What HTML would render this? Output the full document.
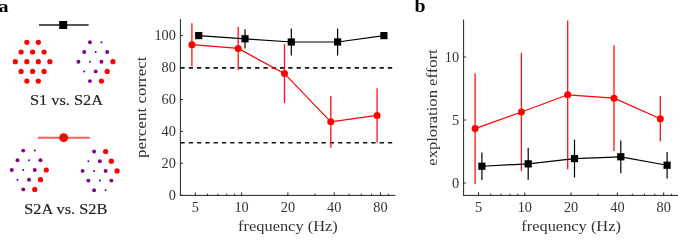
<!DOCTYPE html><html><head><meta charset="utf-8"><style>html,body{margin:0;padding:0;background:#fff;overflow:hidden}svg{display:block;will-change:transform}text{font-family:"Liberation Serif",serif}</style></head><body>
<svg width="678" height="235" viewBox="0 0 678 235">
<text transform="translate(-1.4,11.9) scale(1.15,1)" x="0" y="0" font-size="17.5" font-weight="bold" fill="#000">a</text>
<text transform="translate(414.6,12.2) scale(1.1,1)" x="0" y="0" font-size="18" font-weight="bold" fill="#000">b</text>
<line x1="39" y1="25" x2="88.6" y2="25" stroke="#555" stroke-width="2"/>
<rect x="59.2" y="21" width="8" height="8" fill="#000"/>
<circle cx="26.85" cy="42.30" r="2.6" fill="#ff0000"/>
<circle cx="38.35" cy="42.30" r="2.6" fill="#ff0000"/>
<circle cx="21.10" cy="52.00" r="2.6" fill="#ff0000"/>
<circle cx="32.60" cy="52.00" r="2.6" fill="#ff0000"/>
<circle cx="44.10" cy="52.00" r="2.6" fill="#ff0000"/>
<circle cx="15.35" cy="61.70" r="2.6" fill="#ff0000"/>
<circle cx="26.85" cy="61.70" r="2.6" fill="#ff0000"/>
<circle cx="38.35" cy="61.70" r="2.6" fill="#ff0000"/>
<circle cx="49.85" cy="61.70" r="2.6" fill="#ff0000"/>
<circle cx="21.10" cy="71.40" r="2.6" fill="#ff0000"/>
<circle cx="32.60" cy="71.40" r="2.6" fill="#ff0000"/>
<circle cx="44.10" cy="71.40" r="2.6" fill="#ff0000"/>
<circle cx="26.85" cy="81.10" r="2.6" fill="#ff0000"/>
<circle cx="38.35" cy="81.10" r="2.6" fill="#ff0000"/>
<circle cx="89.95" cy="42.30" r="1.95" fill="#800088"/>
<circle cx="101.45" cy="42.30" r="1.0" fill="#1010ff"/>
<circle cx="84.20" cy="52.00" r="1.95" fill="#800088"/>
<circle cx="95.70" cy="52.00" r="1.0" fill="#1010ff"/>
<circle cx="107.20" cy="52.00" r="1.95" fill="#800088"/>
<circle cx="78.45" cy="61.70" r="1.95" fill="#800088"/>
<circle cx="89.95" cy="61.70" r="1.0" fill="#1010ff"/>
<circle cx="101.45" cy="61.70" r="1.95" fill="#800088"/>
<circle cx="112.95" cy="61.70" r="2.6" fill="#ff0000"/>
<circle cx="84.20" cy="71.40" r="1.0" fill="#1010ff"/>
<circle cx="95.70" cy="71.40" r="1.95" fill="#800088"/>
<circle cx="107.20" cy="71.40" r="2.6" fill="#ff0000"/>
<circle cx="89.95" cy="81.10" r="1.95" fill="#800088"/>
<circle cx="101.45" cy="81.10" r="2.6" fill="#ff0000"/>
<text x="30.0" y="104.5" font-size="13.9" textLength="73" lengthAdjust="spacingAndGlyphs" fill="#222" stroke="#222" stroke-width="0.15">S1 vs. S2A</text>
<line x1="37.8" y1="137.8" x2="89.8" y2="137.8" stroke="#ff5a5a" stroke-width="2"/>
<circle cx="63.7" cy="137.7" r="4.4" fill="#ff0000"/>
<circle cx="23.25" cy="150.60" r="1.95" fill="#800088"/>
<circle cx="34.75" cy="150.60" r="1.0" fill="#1010ff"/>
<circle cx="17.50" cy="160.30" r="1.95" fill="#800088"/>
<circle cx="29.00" cy="160.30" r="1.0" fill="#1010ff"/>
<circle cx="40.50" cy="160.30" r="1.95" fill="#800088"/>
<circle cx="11.75" cy="170.00" r="1.95" fill="#800088"/>
<circle cx="23.25" cy="170.00" r="1.0" fill="#1010ff"/>
<circle cx="34.75" cy="170.00" r="1.95" fill="#800088"/>
<circle cx="46.25" cy="170.00" r="2.6" fill="#ff0000"/>
<circle cx="17.50" cy="179.70" r="1.0" fill="#1010ff"/>
<circle cx="29.00" cy="179.70" r="1.95" fill="#800088"/>
<circle cx="40.50" cy="179.70" r="2.6" fill="#ff0000"/>
<circle cx="23.25" cy="189.40" r="1.95" fill="#800088"/>
<circle cx="34.75" cy="189.40" r="2.6" fill="#ff0000"/>
<circle cx="94.10" cy="151.50" r="1.95" fill="#800088"/>
<circle cx="105.60" cy="151.50" r="2.6" fill="#ff0000"/>
<circle cx="88.35" cy="161.20" r="1.0" fill="#1010ff"/>
<circle cx="99.85" cy="161.20" r="1.95" fill="#800088"/>
<circle cx="111.35" cy="161.20" r="2.6" fill="#ff0000"/>
<circle cx="82.60" cy="170.90" r="1.95" fill="#800088"/>
<circle cx="94.10" cy="170.90" r="1.0" fill="#1010ff"/>
<circle cx="105.60" cy="170.90" r="1.95" fill="#800088"/>
<circle cx="117.10" cy="170.90" r="2.6" fill="#ff0000"/>
<circle cx="88.35" cy="180.60" r="1.95" fill="#800088"/>
<circle cx="99.85" cy="180.60" r="1.0" fill="#1010ff"/>
<circle cx="111.35" cy="180.60" r="1.95" fill="#800088"/>
<circle cx="94.10" cy="190.30" r="1.95" fill="#800088"/>
<circle cx="105.60" cy="190.30" r="1.0" fill="#1010ff"/>
<text x="24.3" y="213.9" font-size="13.9" textLength="83" lengthAdjust="spacingAndGlyphs" fill="#222" stroke="#222" stroke-width="0.15">S2A vs. S2B</text>
<line x1="180.40" y1="18.90" x2="180.40" y2="195.40" stroke="#222" stroke-width="1"/>
<line x1="179.90" y1="195.40" x2="395.40" y2="195.40" stroke="#222" stroke-width="1"/>
<line x1="180.40" y1="195.30" x2="183.00" y2="195.30" stroke="#222" stroke-width="0.9"/>
<text x="175.90" y="199.80" font-size="14.3" text-anchor="end" fill="#333">0</text>
<line x1="180.40" y1="163.36" x2="183.00" y2="163.36" stroke="#222" stroke-width="0.9"/>
<text x="175.90" y="167.86" font-size="14.3" text-anchor="end" fill="#333">20</text>
<line x1="180.40" y1="131.42" x2="183.00" y2="131.42" stroke="#222" stroke-width="0.9"/>
<text x="175.90" y="135.92" font-size="14.3" text-anchor="end" fill="#333">40</text>
<line x1="180.40" y1="99.48" x2="183.00" y2="99.48" stroke="#222" stroke-width="0.9"/>
<text x="175.90" y="103.98" font-size="14.3" text-anchor="end" fill="#333">60</text>
<line x1="180.40" y1="67.54" x2="183.00" y2="67.54" stroke="#222" stroke-width="0.9"/>
<text x="175.90" y="72.04" font-size="14.3" text-anchor="end" fill="#333">80</text>
<line x1="180.40" y1="35.60" x2="183.00" y2="35.60" stroke="#222" stroke-width="0.9"/>
<text x="175.90" y="40.10" font-size="14.3" text-anchor="end" fill="#333">100</text>
<line x1="195.30" y1="195.40" x2="195.30" y2="192.40" stroke="#222" stroke-width="1"/>
<text x="195.30" y="211.60" font-size="14.3" text-anchor="middle" fill="#333">5</text>
<line x1="241.60" y1="195.40" x2="241.60" y2="192.40" stroke="#222" stroke-width="1"/>
<text x="241.60" y="211.60" font-size="14.3" text-anchor="middle" fill="#333">10</text>
<line x1="287.90" y1="195.40" x2="287.90" y2="192.40" stroke="#222" stroke-width="1"/>
<text x="287.90" y="211.60" font-size="14.3" text-anchor="middle" fill="#333">20</text>
<line x1="334.20" y1="195.40" x2="334.20" y2="192.40" stroke="#222" stroke-width="1"/>
<text x="334.20" y="211.60" font-size="14.3" text-anchor="middle" fill="#333">40</text>
<line x1="380.50" y1="195.40" x2="380.50" y2="192.40" stroke="#222" stroke-width="1"/>
<text x="380.50" y="211.60" font-size="14.3" text-anchor="middle" fill="#333">80</text>
<line x1="207.48" y1="195.40" x2="207.48" y2="193.60" stroke="#222" stroke-width="0.9"/>
<line x1="217.78" y1="195.40" x2="217.78" y2="193.60" stroke="#222" stroke-width="0.9"/>
<line x1="226.70" y1="195.40" x2="226.70" y2="193.60" stroke="#222" stroke-width="0.9"/>
<line x1="234.57" y1="195.40" x2="234.57" y2="193.60" stroke="#222" stroke-width="0.9"/>
<line x1="314.98" y1="195.40" x2="314.98" y2="193.60" stroke="#222" stroke-width="0.9"/>
<line x1="349.10" y1="195.40" x2="349.10" y2="193.60" stroke="#222" stroke-width="0.9"/>
<line x1="361.28" y1="195.40" x2="361.28" y2="193.60" stroke="#222" stroke-width="0.9"/>
<line x1="371.58" y1="195.40" x2="371.58" y2="193.60" stroke="#222" stroke-width="0.9"/>
<line x1="388.37" y1="195.40" x2="388.37" y2="193.60" stroke="#222" stroke-width="0.9"/>
<text x="238.10" y="230.8" font-size="15.6" textLength="99.6" lengthAdjust="spacingAndGlyphs" fill="#333">frequency (Hz)</text>
<text transform="translate(146.00,107.15) rotate(-90)" x="-50.75" y="0" font-size="15" textLength="101.50" lengthAdjust="spacingAndGlyphs" fill="#333">percent correct</text>
<line x1="180.40" y1="67.85" x2="395.40" y2="67.85" stroke="#111" stroke-width="1.6" stroke-dasharray="4.3 4"/>
<line x1="180.40" y1="142.80" x2="395.40" y2="142.80" stroke="#111" stroke-width="1.6" stroke-dasharray="4.3 4"/>
<line x1="191.90" y1="23.14" x2="191.90" y2="66.26" stroke="#ff1010" stroke-width="1.3"/>
<line x1="238.20" y1="26.82" x2="238.20" y2="69.94" stroke="#ff1010" stroke-width="1.3"/>
<line x1="284.50" y1="44.06" x2="284.50" y2="103.15" stroke="#ff1010" stroke-width="1.3"/>
<line x1="330.80" y1="95.97" x2="330.80" y2="147.71" stroke="#ff1010" stroke-width="1.3"/>
<line x1="377.10" y1="88.30" x2="377.10" y2="142.60" stroke="#ff1010" stroke-width="1.3"/>
<polyline fill="none" stroke="#ff0000" stroke-width="1.2" points="191.90,44.70 238.20,48.38 284.50,73.61 330.80,121.84 377.10,115.45"/>
<circle cx="191.90" cy="44.70" r="3.5" fill="#ff0000"/>
<circle cx="238.20" cy="48.38" r="3.5" fill="#ff0000"/>
<circle cx="284.50" cy="73.61" r="3.5" fill="#ff0000"/>
<circle cx="330.80" cy="121.84" r="3.5" fill="#ff0000"/>
<circle cx="377.10" cy="115.45" r="3.5" fill="#ff0000"/>
<line x1="245.00" y1="29.21" x2="245.00" y2="48.38" stroke="#000" stroke-width="1.2"/>
<line x1="291.30" y1="28.57" x2="291.30" y2="55.40" stroke="#000" stroke-width="1.2"/>
<line x1="337.60" y1="28.57" x2="337.60" y2="55.40" stroke="#000" stroke-width="1.2"/>
<polyline fill="none" stroke="#000" stroke-width="1.2" points="198.70,35.60 245.00,38.79 291.30,41.99 337.60,41.99 383.90,35.60"/>
<rect x="195.10" y="32.00" width="7.2" height="7.2" fill="#000"/>
<rect x="241.40" y="35.19" width="7.2" height="7.2" fill="#000"/>
<rect x="287.70" y="38.39" width="7.2" height="7.2" fill="#000"/>
<rect x="334.00" y="38.39" width="7.2" height="7.2" fill="#000"/>
<rect x="380.30" y="32.00" width="7.2" height="7.2" fill="#000"/>
<line x1="463.60" y1="19.60" x2="463.60" y2="195.40" stroke="#222" stroke-width="1"/>
<line x1="463.10" y1="195.40" x2="678.00" y2="195.40" stroke="#222" stroke-width="1"/>
<line x1="463.60" y1="183.00" x2="466.20" y2="183.00" stroke="#222" stroke-width="0.9"/>
<text x="459.10" y="187.50" font-size="14.3" text-anchor="end" fill="#333">0</text>
<line x1="463.60" y1="120.00" x2="466.20" y2="120.00" stroke="#222" stroke-width="0.9"/>
<text x="459.10" y="124.50" font-size="14.3" text-anchor="end" fill="#333">5</text>
<line x1="463.60" y1="57.00" x2="466.20" y2="57.00" stroke="#222" stroke-width="0.9"/>
<text x="459.10" y="61.50" font-size="14.3" text-anchor="end" fill="#333">10</text>
<line x1="478.50" y1="195.40" x2="478.50" y2="192.40" stroke="#222" stroke-width="1"/>
<text x="478.50" y="211.60" font-size="14.3" text-anchor="middle" fill="#333">5</text>
<line x1="524.80" y1="195.40" x2="524.80" y2="192.40" stroke="#222" stroke-width="1"/>
<text x="524.80" y="211.60" font-size="14.3" text-anchor="middle" fill="#333">10</text>
<line x1="571.10" y1="195.40" x2="571.10" y2="192.40" stroke="#222" stroke-width="1"/>
<text x="571.10" y="211.60" font-size="14.3" text-anchor="middle" fill="#333">20</text>
<line x1="617.40" y1="195.40" x2="617.40" y2="192.40" stroke="#222" stroke-width="1"/>
<text x="617.40" y="211.60" font-size="14.3" text-anchor="middle" fill="#333">40</text>
<line x1="663.70" y1="195.40" x2="663.70" y2="192.40" stroke="#222" stroke-width="1"/>
<text x="663.70" y="211.60" font-size="14.3" text-anchor="middle" fill="#333">80</text>
<line x1="490.68" y1="195.40" x2="490.68" y2="193.60" stroke="#222" stroke-width="0.9"/>
<line x1="500.98" y1="195.40" x2="500.98" y2="193.60" stroke="#222" stroke-width="0.9"/>
<line x1="509.90" y1="195.40" x2="509.90" y2="193.60" stroke="#222" stroke-width="0.9"/>
<line x1="517.77" y1="195.40" x2="517.77" y2="193.60" stroke="#222" stroke-width="0.9"/>
<line x1="598.18" y1="195.40" x2="598.18" y2="193.60" stroke="#222" stroke-width="0.9"/>
<line x1="632.30" y1="195.40" x2="632.30" y2="193.60" stroke="#222" stroke-width="0.9"/>
<line x1="644.48" y1="195.40" x2="644.48" y2="193.60" stroke="#222" stroke-width="0.9"/>
<line x1="654.78" y1="195.40" x2="654.78" y2="193.60" stroke="#222" stroke-width="0.9"/>
<line x1="671.57" y1="195.40" x2="671.57" y2="193.60" stroke="#222" stroke-width="0.9"/>
<text x="521.30" y="230.8" font-size="15.6" textLength="99.6" lengthAdjust="spacingAndGlyphs" fill="#333">frequency (Hz)</text>
<text transform="translate(436.60,107.50) rotate(-90)" x="-58.25" y="0" font-size="15" textLength="116.50" lengthAdjust="spacingAndGlyphs" fill="#333">exploration effort</text>
<line x1="475.10" y1="73.13" x2="475.10" y2="184.01" stroke="#ff1010" stroke-width="1.3"/>
<line x1="521.40" y1="52.72" x2="521.40" y2="171.16" stroke="#ff1010" stroke-width="1.3"/>
<line x1="567.70" y1="20.46" x2="567.70" y2="169.14" stroke="#ff1010" stroke-width="1.3"/>
<line x1="614.00" y1="45.28" x2="614.00" y2="151.12" stroke="#ff1010" stroke-width="1.3"/>
<line x1="660.30" y1="96.06" x2="660.30" y2="141.42" stroke="#ff1010" stroke-width="1.3"/>
<polyline fill="none" stroke="#ff0000" stroke-width="1.2" points="475.10,128.57 521.40,111.94 567.70,94.80 614.00,98.20 660.30,118.74"/>
<circle cx="475.10" cy="128.57" r="3.5" fill="#ff0000"/>
<circle cx="521.40" cy="111.94" r="3.5" fill="#ff0000"/>
<circle cx="567.70" cy="94.80" r="3.5" fill="#ff0000"/>
<circle cx="614.00" cy="98.20" r="3.5" fill="#ff0000"/>
<circle cx="660.30" cy="118.74" r="3.5" fill="#ff0000"/>
<line x1="481.90" y1="152.38" x2="481.90" y2="180.10" stroke="#000" stroke-width="1.2"/>
<line x1="528.20" y1="147.85" x2="528.20" y2="179.85" stroke="#000" stroke-width="1.2"/>
<line x1="574.50" y1="139.66" x2="574.50" y2="177.46" stroke="#000" stroke-width="1.2"/>
<line x1="620.80" y1="140.41" x2="620.80" y2="173.17" stroke="#000" stroke-width="1.2"/>
<line x1="667.10" y1="152.00" x2="667.10" y2="178.46" stroke="#000" stroke-width="1.2"/>
<polyline fill="none" stroke="#000" stroke-width="1.2" points="481.90,166.24 528.20,163.85 574.50,158.56 620.80,156.79 667.10,165.23"/>
<rect x="478.30" y="162.64" width="7.2" height="7.2" fill="#000"/>
<rect x="524.60" y="160.25" width="7.2" height="7.2" fill="#000"/>
<rect x="570.90" y="154.96" width="7.2" height="7.2" fill="#000"/>
<rect x="617.20" y="153.19" width="7.2" height="7.2" fill="#000"/>
<rect x="663.50" y="161.63" width="7.2" height="7.2" fill="#000"/>
</svg></body></html>
